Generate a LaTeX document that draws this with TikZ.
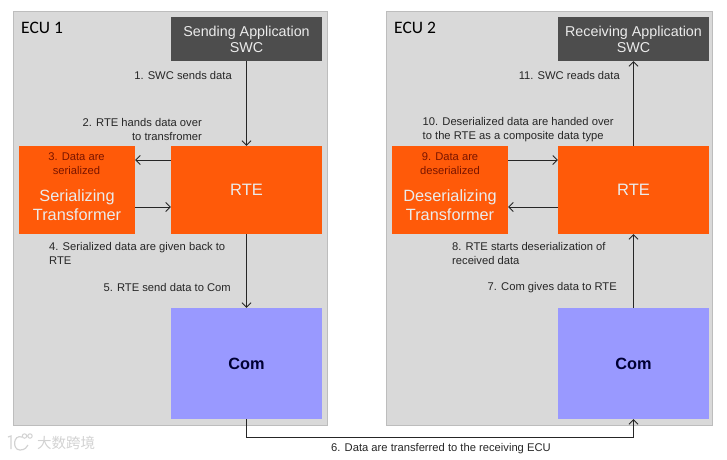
\documentclass[tikz,border=0pt]{standalone}
\usepackage{fontspec}
\setmainfont{Liberation Sans}
\newfontfamily\ecufont{Carlito}
\newfontfamily\cjkfont{Noto Sans CJK SC}
\usetikzlibrary{arrows.meta}
\definecolor{ecugray}{HTML}{D9D9D9}
\definecolor{eculine}{HTML}{BDBDBD}
\definecolor{swcgray}{HTML}{4D4D4D}
\definecolor{rteorange}{HTML}{FF5A09}
\definecolor{comblue}{HTML}{9999FF}
\definecolor{stepred}{HTML}{7A1500}
\definecolor{labelblack}{HTML}{262626}
\definecolor{markgray}{HTML}{D2D2D2}
\tikzset{
  ecubox/.style={draw=eculine,line width=1pt,fill=ecugray,minimum width=314pt,minimum height=414pt,inner sep=0pt},
  swcbox/.style={fill=swcgray,text=white!92!black,minimum width=151pt,minimum height=44pt,inner sep=0pt,align=center,font=\fontsize{14.3}{16}\selectfont},
  rtebox/.style={fill=rteorange,text=white!92!black,minimum width=151pt,minimum height=88pt,inner sep=0pt,font=\fontsize{16.5}{18}\selectfont},
  transbox/.style={fill=rteorange,text=white!92!black,minimum width=116pt,minimum height=88pt,inner sep=0pt,text depth=0pt,align=center,font=\fontsize{16.3}{19}\selectfont},
  combox/.style={fill=comblue,text=black!80!blue,minimum width=151pt,minimum height=111pt,inner sep=0pt,font=\fontsize{16.3}{18}\bfseries\selectfont},
  ecutext/.style={inner sep=0pt,anchor=west,font=\ecufont\fontsize{17.5}{20}\selectfont},
  steptext/.style={inner sep=0pt,text=labelblack,font=\fontsize{11.2}{14}\selectfont},
  redtext/.style={steptext,text=stepred,align=center},
  flow/.style={->,draw=labelblack,line width=.8pt},
  markline/.style={draw=markgray,line width=1.2pt}
}
\begin{document}
\begin{tikzpicture}[x=1pt,y=-1pt,>={Straight Barb[length=4.5pt,width=9pt]}]
\useasboundingbox (0,0) rectangle (727,459);
\node[ecubox] (ecuA) at (170,218) {};
\node[ecubox,minimum width=326pt] (ecuB) at (549,218) {};
\node[ecutext] (ecuAname) at (21,28) {ECU 1};
\node[ecutext] (ecuBname) at (394,28) {ECU 2};

\node[swcbox] (swcA) at (246.5,39) {Sending Application\\SWC};
\node[rtebox] (rteA) at (246.5,190) {RTE};
\node[transbox] (transA) at (77,190) {};
\node[combox] (comA) at (246.5,363.5) {Com};
\node[swcbox] (swcB) at (633.5,39) {Receiving Application\\SWC};
\node[rtebox] (rteB) at (633.5,190) {RTE};
\node[transbox] (transB) at (450,190) {};
\node[combox] (comB) at (633.5,363.5) {Com};

\node[transbox,fill=none] (transAname) at (77,205.5) {Serializing\\Transformer};
\node[transbox,fill=none] (transBname) at (450,205.5) {Deserializing\\Transformer};
\node[redtext] (stepC) at (76.5,164) {3. Data are\\serialized};
\node[redtext] (stepI) at (450,164) {9. Data are\\deserialized};

\node[steptext,anchor=east] (stepA) at (232,75) {1. SWC sends data};
\node[steptext,anchor=east,align=right] (stepB) at (202,129.5) {2. RTE hands data over\\to transfromer};
\node[steptext,anchor=west,align=left] (stepD) at (49,253.5) {4. Serialized data are given back to\\RTE};
\node[steptext,anchor=east] (stepE) at (231,287) {5. RTE send data to Com};
\node[steptext,anchor=west] (stepF) at (331,448.5) {6. Data are transferred to the receiving ECU};
\node[steptext,anchor=east] (stepG) at (617,288) {7. Com gives data to RTE};
\node[steptext,anchor=west,align=left] (stepH) at (452,253.5) {8. RTE starts deserialization of\\received data};
\node[steptext,anchor=west,align=left] (stepJ) at (422.5,129.5) {10. Deserialized data are handed over\\to the RTE as a composite data type};
\node[steptext,anchor=east] (stepK) at (620,75) {11. SWC reads data};

\node[inner sep=0pt,text=markgray,anchor=west,font=\cjkfont\fontsize{14.5}{16}\selectfont] (markname) at (37,443) {大数跨境};
\draw[markline] (8,437) -- (11,436) -- (11,449);
\draw[markline] (22,437) .. controls (13,434) and (12,450) .. (20,450) .. controls (25,450) and (27,447) .. (28,445);
\draw[markline,line width=1pt] (24.5,436) circle (2.2pt) (30,436) circle (2.2pt);

\coordinate (busA) at (246.5,437);
\coordinate (busB) at (633.5,437);
\draw[flow] (swcA) -- (rteA);
\draw[flow] (rteA) -- (comA);
\draw[flow] ([yshift=30pt]rteA.west) -- ([yshift=30pt]transA.east);
\draw[flow] ([yshift=-17pt]transA.east) -- ([yshift=-17pt]rteA.west);
\draw[flow] (comA.south) -- (busA) -- (busB) -- (comB.south);
\draw[flow] (comB) -- (rteB);
\draw[flow] (rteB) -- (swcB);
\draw[flow] ([yshift=30pt]transB.east) -- ([yshift=30pt]rteB.west);
\draw[flow] ([yshift=-17pt]rteB.west) -- ([yshift=-17pt]transB.east);
\end{tikzpicture}
\end{document}
